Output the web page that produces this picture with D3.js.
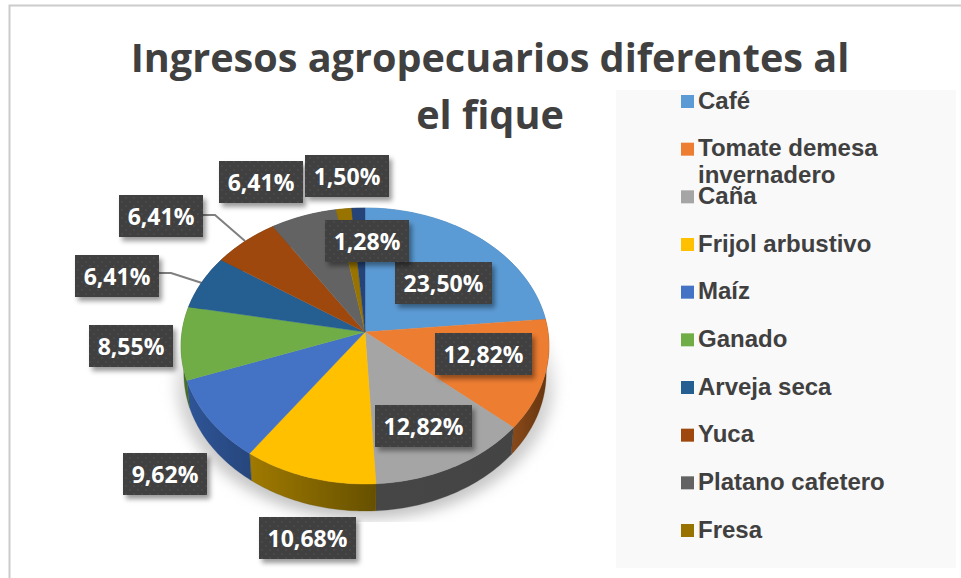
<!DOCTYPE html>
<html><head><meta charset="utf-8">
<script src="https://cdn.jsdelivr.net/npm/d3@7/dist/d3.min.js"></script>
<style>html,body{margin:0;padding:0;background:#fff}svg{display:block}</style>
</head><body><svg id="c" width="961" height="578"></svg>
<script>
const titleLines = ["Ingresos agropecuarios diferentes al", "el fique"];
const values = [23.50, 12.82, 12.82, 10.68, 9.62, 8.55, 6.41, 6.41, 6.41, 1.50, 1.28];
const labels = ["23,50%","12,82%","12,82%","10,68%","9,62%","8,55%","6,41%","6,41%","6,41%","1,50%","1,28%"];
const legendNames = ["Café","Tomate demesa\ninvernadero","Caña","Frijol arbustivo","Maíz","Ganado","Arveja seca","Yuca","Platano cafetero","Fresa"];
const faceColors = ["#5B9BD5","#ED7D31","#A5A5A5","#FFC000","#4472C4","#70AD47","#255E91","#9E480E","#636363","#997300","#264478"];
const sideLight  = ["#4d84b6","#8a4a1a","#464646","#a07a00","#2f5597","#4f7a32","#1a4468","#6e320a","#454545","#6b5000","#1a3054"];
const sideDark   = ["#3a6a92","#64340f","#444444","#665000","#26467c","#3d6226","#143650","#54260a","#383838","#554000","#14263e"];

// layout of label boxes [x, y, width] in the same order as values
const labelBox = [[395,262,97],[435,333,97],[375,405,97],[259,517,97],[123,453,84],[89,325,84],[75,255,84],[119,195,84],[219,161,84],[305,155,84],[325,220,84]];
const leaders = {6:[[159,273],[171,273],[202,283]],7:[[203,215],[215,215],[245,241]]};

const svg = d3.select("#c");
const defs = svg.append("defs");
const F = "'Open Sans'", A = "'Liberation Sans'";

// frame
svg.append("path").attr("d","M9.5,578V5.5H961").attr("fill","none").attr("stroke","#cbcbcb").attr("stroke-width",2);

// title
svg.append("g").selectAll("text").data(titleLines).join("text")
  .attr("x",490).attr("y",(d,i)=>72+i*57).attr("text-anchor","middle")
  .attr("font-family",F).attr("font-weight",700).attr("font-size",39.6).attr("fill","#404040").text(d=>d);

// legend
svg.append("rect").attr("x",616).attr("y",90).attr("width",340).attr("height",478).attr("fill","#f9f9f9");
const ly = d3.scalePoint().domain(d3.range(legendNames.length)).range([95,524]);
const lg = svg.append("g").selectAll("g").data(legendNames).join("g");
lg.append("rect").attr("x",681).attr("y",(d,i)=>ly(i)).attr("width",13).attr("height",13).attr("fill",(d,i)=>faceColors[i]);
lg.each(function(d,i){
  const t = d3.select(this);
  d.split("\n").forEach((s,j)=>t.append("text").attr("x",698).attr("y",ly(i)+13.5+j*26.5)
    .attr("font-family",A).attr("font-weight",700).attr("font-size",24).attr("fill","#404040").text(s));
});

// projection of the tilted disc
const cx=365, cy=332, R=183, S=136.6, K=0.1014, depth=27;
const project = (a,r=1)=>{const u=r*Math.sin(a),v=r*Math.cos(a),w=1+K*v;return [cx+R*u/w,cy-S*v/w];};
const lower = p=>[cx+(p[0]-cx)*0.985,p[1]+depth];
const arcPts = (a0,a1)=>{const n=Math.max(2,Math.ceil((a1-a0)/0.02));return d3.range(n+1).map(i=>project(a0+(a1-a0)*i/n));};
const line = d3.line();
const pie = d3.pie().sort(null).value(d=>d);
const arcs = pie(values);

// shadow
defs.append("filter").attr("id","blur").attr("x","-20%").attr("y","-20%").attr("width","140%").attr("height","140%")
  .append("feGaussianBlur").attr("stdDeviation",7);
defs.append("clipPath").attr("id","shClip").append("rect").attr("x",150).attr("y",280).attr("width",430).attr("height",242);
defs.append("linearGradient").attr("id","shFill").attr("x1",0).attr("y1",0).attr("x2",0).attr("y2",1)
  .selectAll("stop").data([[0.25,"#fff"],[0.55,"#d4d4d4"],[1,"#c0c0c0"]]).join("stop")
  .attr("offset",d=>d[0]).attr("stop-color",d=>d[1]);
svg.append("g").attr("clip-path","url(#shClip)").append("path")
  .attr("d",line(arcPts(0,2*Math.PI).map(p=>[cx+(p[0]-cx)*1.03,p[1]+depth+8]))+"Z")
  .attr("fill","url(#shFill)").attr("filter","url(#blur)");

// leader lines
svg.append("g").selectAll("path").data(Object.values(leaders)).join("path")
  .attr("d",d=>line(d)).attr("fill","none").attr("stroke","#7f7f7f").attr("stroke-width",2);

// sides
arcs.forEach((d,i)=>{
  const g=defs.append("linearGradient").attr("id","side"+i);
  g.append("stop").attr("offset",0).attr("stop-color",sideLight[i]);
  g.append("stop").attr("offset",1).attr("stop-color",sideDark[i]);
});
const sidePath = d=>{const t=arcPts(d.startAngle,d.endAngle);return line(t.concat(t.slice().reverse().map(lower)))+"Z";};
svg.append("g").selectAll("path").data(arcs).join("path")
  .attr("d",sidePath).attr("fill",(d,i)=>`url(#side${i})`).attr("stroke",(d,i)=>sideDark[i]).attr("stroke-width",0.3);

// top face
svg.append("g").selectAll("path").data(arcs).join("path")
  .attr("d",d=>line([[cx,cy]].concat(arcPts(d.startAngle,d.endAngle)))+"Z")
  .attr("fill",(d,i)=>faceColors[i]).attr("stroke",(d,i)=>faceColors[i]).attr("stroke-width",0.4);

// label boxes
const pat = defs.append("pattern").attr("id","dots").attr("width",8).attr("height",8).attr("patternUnits","userSpaceOnUse");
pat.append("rect").attr("width",8).attr("height",8).attr("fill","#404040");
pat.append("circle").attr("cx",2).attr("cy",2).attr("r",1).attr("fill","#4c4c4c");
pat.append("circle").attr("cx",6).attr("cy",6).attr("r",1).attr("fill","#4c4c4c");
defs.append("filter").attr("id","ds").attr("x","-20%").attr("y","-30%").attr("width","150%").attr("height","170%")
  .append("feDropShadow").attr("dx",3).attr("dy",4).attr("stdDeviation",2.5).attr("flood-color","#000").attr("flood-opacity",0.4);
const lb = svg.append("g").selectAll("g").data(labels).join("g");
lb.append("rect").attr("x",(d,i)=>labelBox[i][0]).attr("y",(d,i)=>labelBox[i][1]).attr("width",(d,i)=>labelBox[i][2]).attr("height",42)
  .attr("fill","url(#dots)").attr("filter","url(#ds)");
lb.append("text").attr("x",(d,i)=>labelBox[i][0]+labelBox[i][2]/2).attr("y",(d,i)=>labelBox[i][1]+29.5).attr("text-anchor","middle")
  .attr("font-family",F).attr("font-weight",700).attr("font-size",23).attr("fill","#fff").text(d=>d);
</script></body></html>
